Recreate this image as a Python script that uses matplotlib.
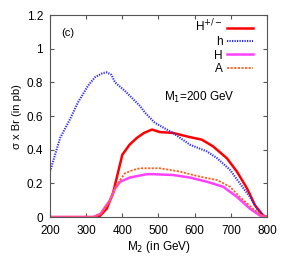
import matplotlib
matplotlib.use("Agg")
import matplotlib.pyplot as plt

plt.rcParams['font.family'] = ['Liberation Sans', 'DejaVu Sans']

# H+/- (red solid)
m_hpm = [200, 335, 357, 374, 400, 420, 440, 460, 482, 504, 540, 587, 620, 651, 689, 717, 745, 767, 789, 800]
v_hpm = [0, 0, 0.05, 0.14, 0.37, 0.43, 0.47, 0.50, 0.52, 0.505, 0.50, 0.475, 0.46, 0.42, 0.35, 0.27, 0.17, 0.07, 0.01, 0]

# h (blue dotted)
m_h = [200, 228, 255, 277, 305, 324, 345, 357, 370, 380, 407, 435, 449, 463, 490, 540, 587, 634, 662, 698, 725, 753, 775, 790, 800]
v_h = [0.27, 0.47, 0.58, 0.68, 0.78, 0.83, 0.855, 0.86, 0.845, 0.80, 0.75, 0.69, 0.66, 0.62, 0.56, 0.50, 0.43, 0.39, 0.35, 0.28, 0.20, 0.12, 0.04, 0.01, 0]

# H (magenta solid)
m_H = [200, 320, 340, 366, 380, 394, 421, 468, 485, 540, 587, 634, 679, 717, 753, 780, 800]
v_H = [0, 0, 0.02, 0.10, 0.17, 0.21, 0.235, 0.255, 0.255, 0.25, 0.235, 0.21, 0.18, 0.12, 0.05, 0.01, 0]

# A (orange dashed)
m_A = [200, 320, 340, 366, 380, 394, 407, 430, 449, 504, 560, 615, 662, 698, 725, 761, 785, 800]
v_A = [0, 0, 0.02, 0.10, 0.17, 0.22, 0.26, 0.28, 0.29, 0.29, 0.27, 0.24, 0.22, 0.18, 0.12, 0.05, 0.01, 0]

xticks = [200, 300, 400, 500, 600, 700, 800]
yticks = [0, 0.2, 0.4, 0.6, 0.8, 1.0, 1.2]
ytick_labels = ["0", "0.2", "0.4", "0.6", "0.8", "1", "1.2"]

fig = plt.figure(figsize=(2.84, 2.56), dpi=100)
ax = fig.add_axes([0.176, 0.152, 0.764, 0.789])

ax.plot(m_hpm, v_hpm, color="#ff0000", lw=1.8, ls="-", label="H$^{+/-}$")
ax.plot(m_h, v_h, color="#2a2aff", lw=1.5, ls=(0, (0.6, 0.6)), label="h")
ax.plot(m_H, v_H, color="#ff40ff", lw=1.8, ls="-", label="H")
ax.plot(m_A, v_A, color="#ff6020", lw=1.3, ls=(0, (1.2, 0.8)), label="A")

ax.set_xlim(200, 800)
ax.set_ylim(0, 1.2)
ax.set_xticks(xticks)
ax.set_yticks(yticks)
ax.set_yticklabels(ytick_labels)
ax.tick_params(direction="in", top=True, right=True, labelsize=8.5, length=3, color="#555555")
ax.tick_params(axis="x", pad=6)
ax.tick_params(axis="y", pad=5)
for s in ax.spines.values():
    s.set_color("#555555")

ax.set_xlabel("M$_2$ (in GeV)", fontsize=8.5, labelpad=1)
ax.set_ylabel("σ x Br (in pb)", fontsize=8, labelpad=3)

ax.text(0.05, 0.91, "(c)", transform=ax.transAxes, fontsize=8, va="center", ha="left")
ax.text(612, 0.71, "M$_1$=200 GeV", fontsize=8.5, ha="center", va="center")

leg = ax.legend(loc="upper right", bbox_to_anchor=(0.97, 1.02), frameon=False,
                markerfirst=False, fontsize=8.5,
                handlelength=2.2, handletextpad=0.4, labelspacing=0.12,
                borderaxespad=0.2)

fig.savefig("out.png", dpi=100)
